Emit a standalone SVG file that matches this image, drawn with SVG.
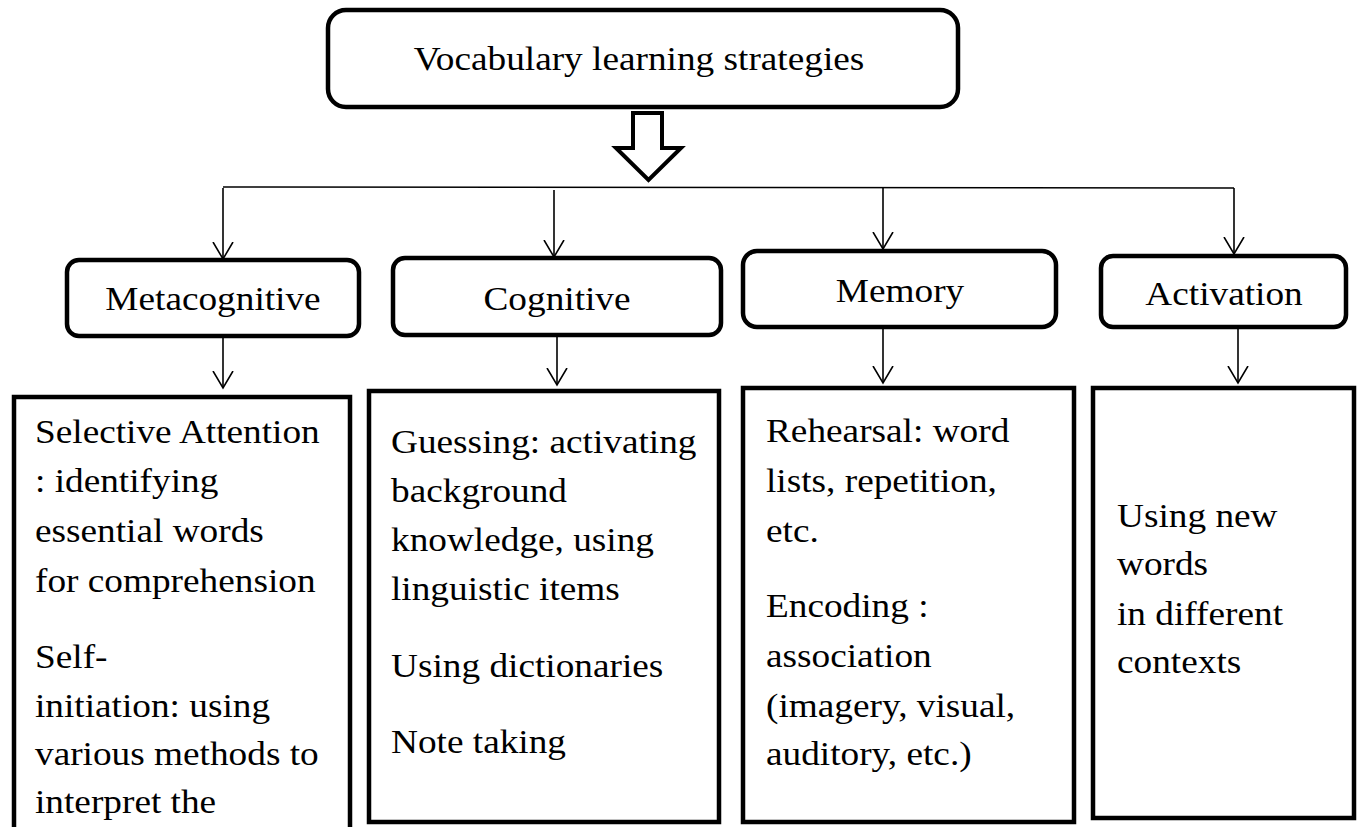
<svg xmlns="http://www.w3.org/2000/svg" width="1358" height="827" viewBox="0 0 1358 827">
<defs>
<style>
.rbox{fill:#fff;stroke:#000;stroke-width:4.5}
.sbox{fill:#fff;stroke:#000;stroke-width:4.5}
.t{font-family:'Liberation Serif','Times New Roman',serif;font-size:33px;fill:#000}
.c{text-anchor:middle}
.ln{stroke:#000;stroke-width:1.6;fill:none}
</style>
<marker id="arr" viewBox="0 -11 19 22" refX="17" refY="0" markerWidth="19" markerHeight="22" markerUnits="userSpaceOnUse" orient="auto">
<path d="M0,-10 L17,0 L0,10" fill="none" stroke="#000" stroke-width="1.6"/>
</marker>
</defs>
<rect width="1358" height="827" fill="#fff"/>

<g id="connectors">
<path class="ln" d="M223,187 L1234,188"/>
<path class="ln" d="M223,188 L223,259" marker-end="url(#arr)"/>
<path class="ln" d="M554,190 L554,257" marker-end="url(#arr)"/>
<path class="ln" d="M883,187 L883,249" marker-end="url(#arr)"/>
<path class="ln" d="M1234,188 L1234,254" marker-end="url(#arr)"/>
<path class="ln" d="M223,338 L223,388" marker-end="url(#arr)"/>
<path class="ln" d="M557,336 L557,385" marker-end="url(#arr)"/>
<path class="ln" d="M883,329 L883,383" marker-end="url(#arr)"/>
<path class="ln" d="M1238,329 L1238,383" marker-end="url(#arr)"/>
<path d="M633,113 L662,113 L662,148 L681,148 L648.5,180 L616,148 L633,148 Z" fill="#fff" stroke="#000" stroke-width="4"/>
</g>

<g id="root">
<rect class="rbox" x="328" y="10" width="630" height="97" rx="18"/>
<text class="t c" transform="matrix(1.13 0 0 1 639 0)" x="0" y="70">Vocabulary learning strategies</text>
</g>

<g id="metacognitive">
<rect class="rbox" x="67" y="260" width="292" height="76" rx="12"/>
<text class="t c" transform="matrix(1.13 0 0 1 213 0)" x="0" y="310">Metacognitive</text>
</g>
<g id="cognitive">
<rect class="rbox" x="393" y="258" width="328" height="77" rx="12"/>
<text class="t c" transform="matrix(1.13 0 0 1 557 0)" x="0" y="310">Cognitive</text>
</g>
<g id="memory">
<rect class="rbox" x="743" y="251" width="313" height="76" rx="14"/>
<text class="t c" transform="matrix(1.13 0 0 1 900 0)" x="0" y="302">Memory</text>
</g>
<g id="activation">
<rect class="rbox" x="1101" y="256" width="245" height="71" rx="12"/>
<text class="t c" transform="matrix(1.13 0 0 1 1224 0)" x="0" y="305">Activation</text>
</g>

<g id="meta-detail">
<rect class="sbox" x="14" y="397" width="336" height="440"/>
<text class="t" transform="matrix(1.13 0 0 1 35 0)"><tspan x="0" y="443">Selective Attention</tspan><tspan x="0" y="492">:  identifying</tspan><tspan x="0" y="542">essential words</tspan><tspan x="0" y="592">for comprehension</tspan><tspan x="0" y="668">Self-</tspan><tspan x="0" y="717">initiation: using</tspan><tspan x="0" y="765">various methods to</tspan><tspan x="0" y="813">interpret the</tspan></text>
</g>

<g id="cognitive-detail">
<rect class="sbox" x="369" y="391" width="350" height="431"/>
<text class="t" transform="matrix(1.13 0 0 1 391 0)"><tspan x="0" y="453">Guessing: activating</tspan><tspan x="0" y="502">background</tspan><tspan x="0" y="551">knowledge, using</tspan><tspan x="0" y="600">linguistic items</tspan><tspan x="0" y="677">Using dictionaries</tspan><tspan x="0" y="753">Note taking</tspan></text>
</g>

<g id="memory-detail">
<rect class="sbox" x="743" y="388" width="331" height="434"/>
<text class="t" transform="matrix(1.13 0 0 1 766 0)"><tspan x="0" y="442">Rehearsal: word</tspan><tspan x="0" y="492">lists,  repetition,</tspan><tspan x="0" y="542">etc.</tspan><tspan x="0" y="617">Encoding :</tspan><tspan x="0" y="667">association</tspan><tspan x="0" y="717">(imagery, visual,</tspan><tspan x="0" y="765">auditory, etc.)</tspan></text>
</g>

<g id="activation-detail">
<rect class="sbox" x="1093" y="388" width="261" height="430"/>
<text class="t" transform="matrix(1.13 0 0 1 1117 0)"><tspan x="0" y="527">Using new</tspan><tspan x="0" y="575">words</tspan><tspan x="0" y="625">in different</tspan><tspan x="0" y="673">contexts</tspan></text>
</g>
</svg>
